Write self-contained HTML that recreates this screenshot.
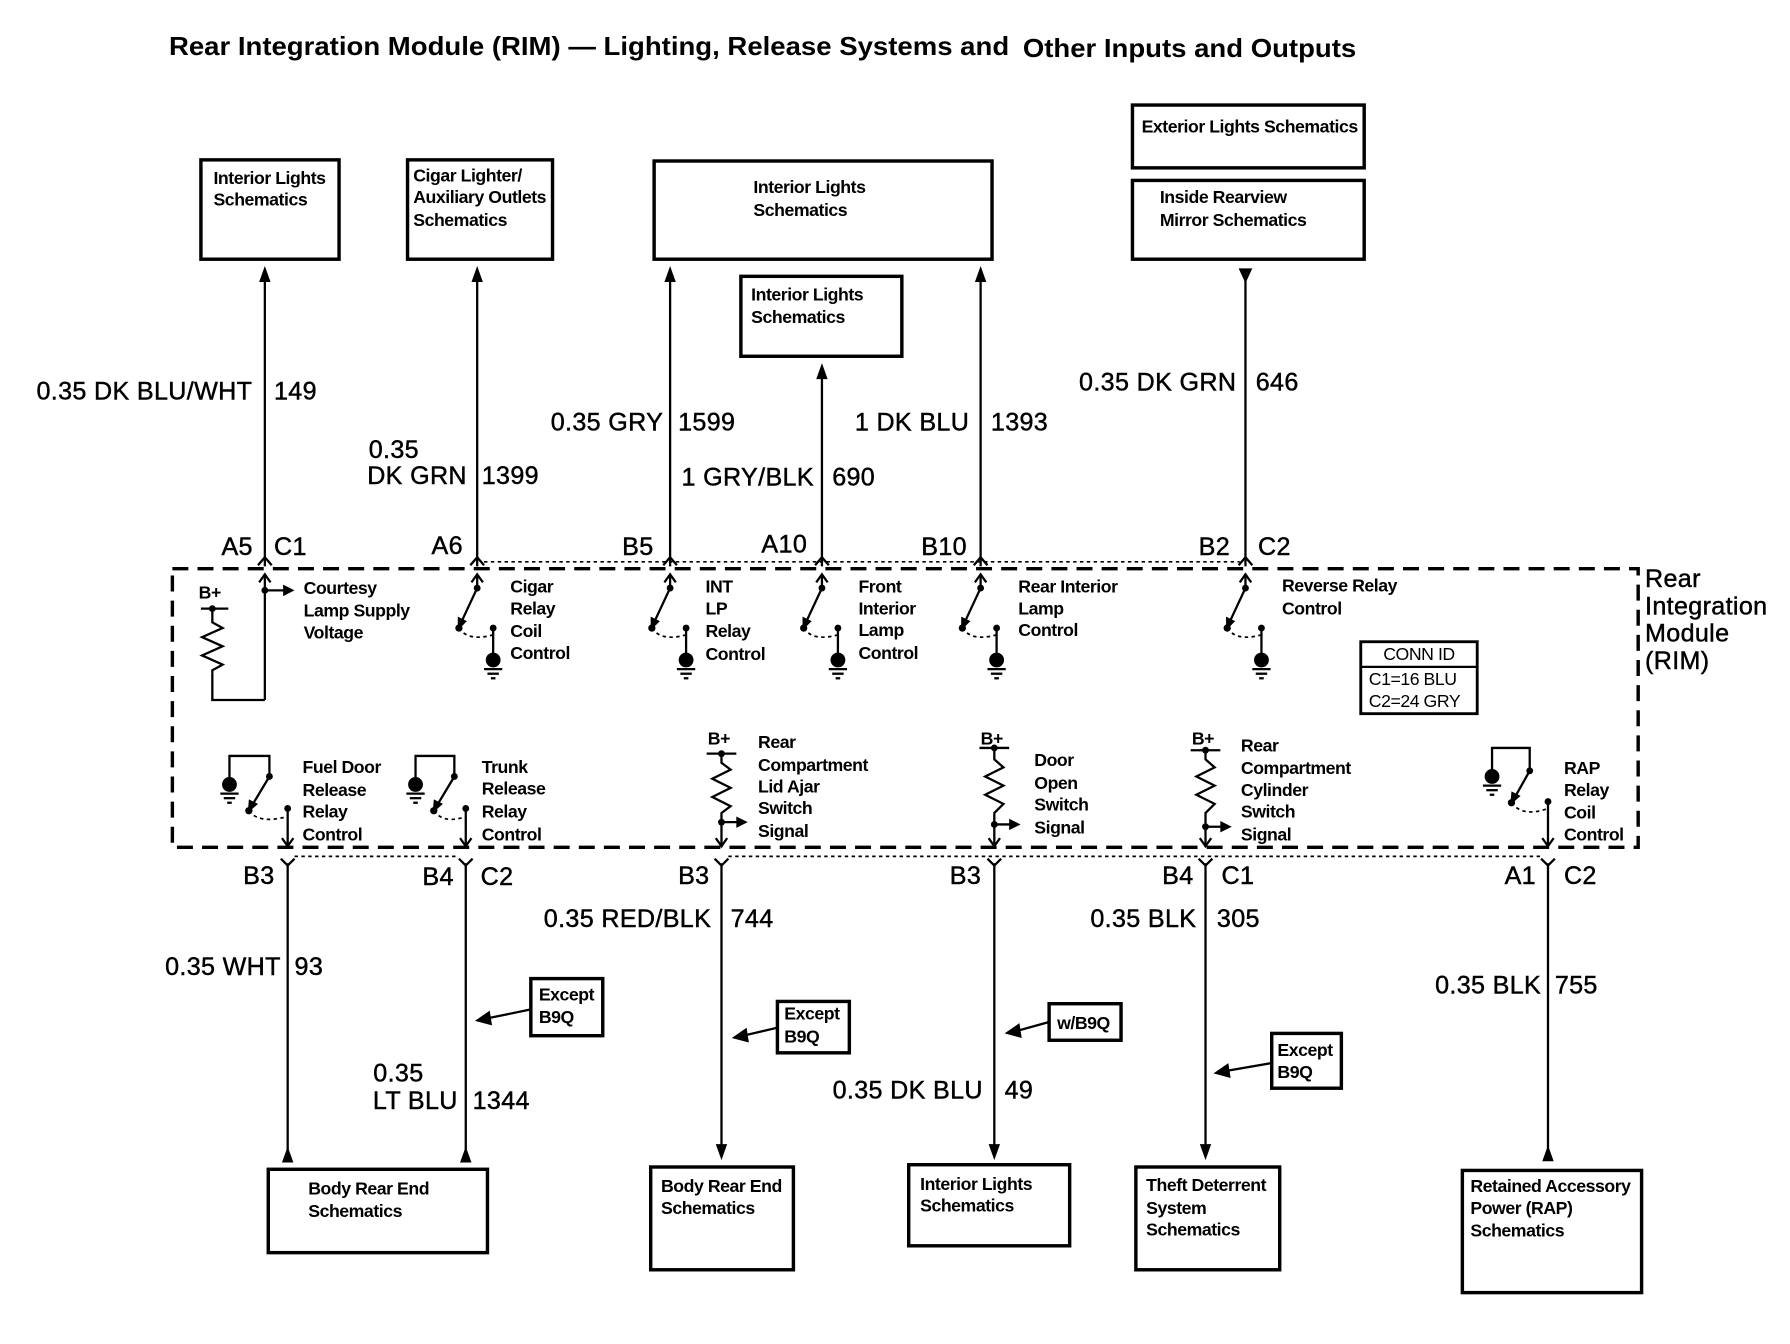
<!DOCTYPE html>
<html><head><meta charset="utf-8"><style>
html,body{margin:0;padding:0;background:#fff}
svg{display:block}
text{font-family:"Liberation Sans",sans-serif;fill:#000}
.s{font-size:15.5px;font-weight:bold;letter-spacing:-0.4px}
.w{font-size:22px;letter-spacing:0.3px;stroke:#000;stroke-width:0.4px}
.r{text-anchor:end}
.bx{fill:none;stroke:#000;stroke-width:3}
.ln{fill:none;stroke:#000;stroke-width:2}
.dl{fill:none;stroke:#000;stroke-width:1.5;stroke-dasharray:3 3}
</style></head><body>
<svg width="1790" height="1344" viewBox="0 0 1568 1177" preserveAspectRatio="none" xmlns="http://www.w3.org/2000/svg">
<text x="148" y="48" style="font-size:23px;font-weight:bold" textLength="736" lengthAdjust="spacingAndGlyphs">Rear Integration Module (RIM) — Lighting, Release Systems and</text>
<text x="896" y="50" style="font-size:23px;font-weight:bold" textLength="292" lengthAdjust="spacingAndGlyphs">Other Inputs and Outputs</text>

<rect class="bx" x="176" y="140" width="121" height="87"/>
<text class="s" x="187" y="161">Interior Lights</text><text class="s" x="187" y="180">Schematics</text>
<rect class="bx" x="357" y="140" width="127" height="87"/>
<text class="s" x="362" y="159">Cigar Lighter/</text><text class="s" x="362" y="178">Auxiliary Outlets</text><text class="s" x="362" y="198">Schematics</text>
<rect class="bx" x="573" y="141" width="296" height="86"/>
<text class="s" x="660" y="169">Interior Lights</text><text class="s" x="660" y="189">Schematics</text>
<rect class="bx" x="649" y="242" width="141" height="70"/>
<text class="s" x="658" y="263">Interior Lights</text><text class="s" x="658" y="283">Schematics</text>
<rect class="bx" x="992" y="92" width="203" height="55"/>
<text class="s" x="1000" y="116">Exterior Lights Schematics</text>
<rect class="bx" x="992" y="158" width="203" height="69"/>
<text class="s" x="1016" y="178">Inside Rearview</text><text class="s" x="1016" y="198">Mirror Schematics</text>

<g class="ln">
<line x1="232" y1="240" x2="232" y2="496"/>
<line x1="418" y1="240" x2="418" y2="496"/>
<line x1="587" y1="240" x2="587" y2="496"/>
<line x1="720" y1="330" x2="720" y2="496"/>
<line x1="859" y1="240" x2="859" y2="496"/>
<line x1="1091" y1="240" x2="1091" y2="496"/>
</g>
<g fill="#000">
<polygon points="232,233 227,247 237,247"/>
<polygon points="418,233 413,247 423,247"/>
<polygon points="587,233 582,247 592,247"/>
<polygon points="720,318 715,332 725,332"/>
<polygon points="859,233 854,247 864,247"/>
<polygon points="1085,235 1097,235 1091,248"/>
</g>
<text class="w r" x="221" y="350">0.35 DK BLU/WHT</text><text class="w" x="240" y="350">149</text>
<text class="w" x="323" y="401">0.35</text><text class="w r" x="409" y="424">DK GRN</text><text class="w" x="422" y="424">1399</text>
<text class="w r" x="581" y="377">0.35 GRY</text><text class="w" x="594" y="377">1599</text>
<text class="w r" x="713" y="425">1 GRY/BLK</text><text class="w" x="729" y="425">690</text>
<text class="w r" x="849" y="377">1 DK BLU</text><text class="w" x="868" y="377">1393</text>
<text class="w r" x="1083" y="342">0.35 DK GRN</text><text class="w" x="1100" y="342">646</text>

<text class="w" x="194" y="486">A5</text><text class="w" x="240" y="486">C1</text>
<text class="w" x="378" y="485">A6</text>
<text class="w" x="545" y="486">B5</text>
<text class="w" x="667" y="484">A10</text>
<text class="w" x="807" y="486">B10</text>
<text class="w" x="1050" y="486">B2</text><text class="w" x="1102" y="486">C2</text>
<line class="dl" x1="424" y1="492" x2="1086" y2="492"/>
<g class="ln">
<polyline points="226,495 232,488 238,495"/><polyline points="412,495 418,488 424,495"/>
<polyline points="581,495 587,488 593,495"/><polyline points="714,495 720,488 726,495"/>
<polyline points="853,495 859,488 865,495"/><polyline points="1085,495 1091,488 1097,495"/>
</g>

<rect x="151" y="498" width="1284" height="244" fill="none" stroke="#000" stroke-width="3" stroke-dasharray="14 8"/>
<text class="w" x="1441" y="514">Rear</text><text class="w" x="1441" y="538">Integration</text>
<text class="w" x="1441" y="562">Module</text><text class="w" x="1441" y="586">(RIM)</text>

<g class="ln">
<polyline points="227,510 232,503 237,510"/>
<line x1="232" y1="503" x2="232" y2="613"/>
<polyline points="232,613 186,613 186,590"/>
<line x1="176" y1="533" x2="200" y2="533"/>
<polyline points="186,533 186,545 195,550 177,558 195,566 177,574 195,582 186,587 186,590"/>
<line x1="232" y1="517" x2="250" y2="517"/>
</g>
<circle cx="186" cy="533" r="3"/><circle cx="232" cy="517" r="3"/>
<polygon points="258,517 248,512 248,522"/>
<text class="s" x="174" y="524">B+</text>
<text class="s" x="266" y="520">Courtesy</text><text class="s" x="266" y="540">Lamp Supply</text><text class="s" x="266" y="559">Voltage</text>

<g transform="translate(418,0)">
<g class="ln">
<polyline points="-5,510 0,503 5,510"/><line x1="0" y1="503" x2="0" y2="515"/>
<line x1="0" y1="515" x2="-14" y2="545"/>
<path d="M-16,550 Q-8,562 14,556" stroke-dasharray="3 3" stroke-width="1.5"/>
<line x1="14" y1="550" x2="14" y2="575"/>
<line x1="6" y1="586" x2="22" y2="586"/><line x1="9" y1="590" x2="19" y2="590"/><line x1="12" y1="594" x2="16" y2="594"/>
</g>
<circle cx="0" cy="515" r="3"/><circle cx="-16" cy="550" r="3.2"/><circle cx="14" cy="550" r="3"/><circle cx="14" cy="578" r="6.5"/>
<polygon points="-17,552 -17,540 -9,544"/>
</g>
<g transform="translate(587,0)">
<g class="ln">
<polyline points="-5,510 0,503 5,510"/><line x1="0" y1="503" x2="0" y2="515"/>
<line x1="0" y1="515" x2="-14" y2="545"/>
<path d="M-16,550 Q-8,562 14,556" stroke-dasharray="3 3" stroke-width="1.5"/>
<line x1="14" y1="550" x2="14" y2="575"/>
<line x1="6" y1="586" x2="22" y2="586"/><line x1="9" y1="590" x2="19" y2="590"/><line x1="12" y1="594" x2="16" y2="594"/>
</g>
<circle cx="0" cy="515" r="3"/><circle cx="-16" cy="550" r="3.2"/><circle cx="14" cy="550" r="3"/><circle cx="14" cy="578" r="6.5"/>
<polygon points="-17,552 -17,540 -9,544"/>
</g>
<g transform="translate(720,0)">
<g class="ln">
<polyline points="-5,510 0,503 5,510"/><line x1="0" y1="503" x2="0" y2="515"/>
<line x1="0" y1="515" x2="-14" y2="545"/>
<path d="M-16,550 Q-8,562 14,556" stroke-dasharray="3 3" stroke-width="1.5"/>
<line x1="14" y1="550" x2="14" y2="575"/>
<line x1="6" y1="586" x2="22" y2="586"/><line x1="9" y1="590" x2="19" y2="590"/><line x1="12" y1="594" x2="16" y2="594"/>
</g>
<circle cx="0" cy="515" r="3"/><circle cx="-16" cy="550" r="3.2"/><circle cx="14" cy="550" r="3"/><circle cx="14" cy="578" r="6.5"/>
<polygon points="-17,552 -17,540 -9,544"/>
</g>
<g transform="translate(859,0)">
<g class="ln">
<polyline points="-5,510 0,503 5,510"/><line x1="0" y1="503" x2="0" y2="515"/>
<line x1="0" y1="515" x2="-14" y2="545"/>
<path d="M-16,550 Q-8,562 14,556" stroke-dasharray="3 3" stroke-width="1.5"/>
<line x1="14" y1="550" x2="14" y2="575"/>
<line x1="6" y1="586" x2="22" y2="586"/><line x1="9" y1="590" x2="19" y2="590"/><line x1="12" y1="594" x2="16" y2="594"/>
</g>
<circle cx="0" cy="515" r="3"/><circle cx="-16" cy="550" r="3.2"/><circle cx="14" cy="550" r="3"/><circle cx="14" cy="578" r="6.5"/>
<polygon points="-17,552 -17,540 -9,544"/>
</g>
<g transform="translate(1091,0)">
<g class="ln">
<polyline points="-5,510 0,503 5,510"/><line x1="0" y1="503" x2="0" y2="515"/>
<line x1="0" y1="515" x2="-14" y2="545"/>
<path d="M-16,550 Q-8,562 14,556" stroke-dasharray="3 3" stroke-width="1.5"/>
<line x1="14" y1="550" x2="14" y2="575"/>
<line x1="6" y1="586" x2="22" y2="586"/><line x1="9" y1="590" x2="19" y2="590"/><line x1="12" y1="594" x2="16" y2="594"/>
</g>
<circle cx="0" cy="515" r="3"/><circle cx="-16" cy="550" r="3.2"/><circle cx="14" cy="550" r="3"/><circle cx="14" cy="578" r="6.5"/>
<polygon points="-17,552 -17,540 -9,544"/>
</g>
<text class="s" x="447" y="519">Cigar</text><text class="s" x="447" y="538">Relay</text><text class="s" x="447" y="558">Coil</text><text class="s" x="447" y="577">Control</text>
<text class="s" x="618" y="519">INT</text><text class="s" x="618" y="538">LP</text><text class="s" x="618" y="558">Relay</text><text class="s" x="618" y="578">Control</text>
<text class="s" x="752" y="519">Front</text><text class="s" x="752" y="538">Interior</text><text class="s" x="752" y="557">Lamp</text><text class="s" x="752" y="577">Control</text>
<text class="s" x="892" y="519">Rear Interior</text><text class="s" x="892" y="538">Lamp</text><text class="s" x="892" y="557">Control</text>
<text class="s" x="1123" y="518">Reverse Relay</text><text class="s" x="1123" y="538">Control</text>

<rect x="1192" y="562" width="102" height="63" fill="none" stroke="#000" stroke-width="2.5"/>
<line x1="1192" y1="584" x2="1294" y2="584" stroke="#000" stroke-width="2"/>
<text class="s" x="1243" y="578" text-anchor="middle" style="font-weight:normal">CONN ID</text>
<text class="s" x="1199" y="600" style="font-weight:normal">C1=16 BLU</text>
<text class="s" x="1199" y="619" style="font-weight:normal">C2=24 GRY</text>

<g transform="translate(252,0)">
<g class="ln">
<polyline points="-51,684 -51,662 -16,662 -16,680"/>
<line x1="-16" y1="680" x2="-31" y2="705"/>
<path d="M-34,710 Q-25,722 0,715" stroke-dasharray="3 3" stroke-width="1.5"/>
<line x1="0" y1="708" x2="0" y2="742"/><polyline points="-5,734 0,741 5,734"/>
<line x1="-59" y1="695" x2="-43" y2="695"/><line x1="-56" y1="699" x2="-46" y2="699"/><line x1="-53" y1="703" x2="-49" y2="703"/>
</g>
<circle cx="-51" cy="687" r="6.5"/><circle cx="-16" cy="680" r="3"/><circle cx="-34" cy="710" r="3.2"/><circle cx="0" cy="708" r="3"/>
<polygon points="-35,712 -34,700 -26,704"/>
</g>
<g transform="translate(408,0)">
<g class="ln">
<polyline points="-44,684 -44,662 -10,662 -10,680"/>
<line x1="-10" y1="680" x2="-25" y2="705"/>
<path d="M-28,710 Q-19,722 0,715" stroke-dasharray="3 3" stroke-width="1.5"/>
<line x1="0" y1="708" x2="0" y2="742"/><polyline points="-5,734 0,741 5,734"/>
<line x1="-52" y1="695" x2="-36" y2="695"/><line x1="-49" y1="699" x2="-39" y2="699"/><line x1="-46" y1="703" x2="-42" y2="703"/>
</g>
<circle cx="-44" cy="687" r="6.5"/><circle cx="-10" cy="680" r="3"/><circle cx="-28" cy="710" r="3.2"/><circle cx="0" cy="708" r="3"/>
<polygon points="-29,712 -28,700 -20,704"/>
</g>
<g transform="translate(1356,0)">
<g class="ln">
<polyline points="-49,678 -49,655 -16,655 -16,675"/>
<line x1="-16" y1="675" x2="-30" y2="700"/>
<path d="M-32,703 Q-22,716 0,708" stroke-dasharray="3 3" stroke-width="1.5"/>
<line x1="0" y1="702" x2="0" y2="742"/><polyline points="-5,734 0,741 5,734"/>
<line x1="-57" y1="688" x2="-41" y2="688"/><line x1="-54" y1="692" x2="-44" y2="692"/><line x1="-51" y1="696" x2="-47" y2="696"/>
</g>
<circle cx="-49" cy="680" r="6.5"/><circle cx="-16" cy="675" r="3"/><circle cx="-32" cy="703" r="3.2"/><circle cx="0" cy="702" r="3"/>
<polygon points="-33,705 -32,693 -24,697"/>
</g>
<text class="s" x="265" y="677">Fuel Door</text><text class="s" x="265" y="697">Release</text><text class="s" x="265" y="716">Relay</text><text class="s" x="265" y="736">Control</text>
<text class="s" x="422" y="677">Trunk</text><text class="s" x="422" y="696">Release</text><text class="s" x="422" y="716">Relay</text><text class="s" x="422" y="736">Control</text>
<text class="s" x="1370" y="678">RAP</text><text class="s" x="1370" y="697">Relay</text><text class="s" x="1370" y="717">Coil</text><text class="s" x="1370" y="736">Control</text>

<g transform="translate(632,0)">
<g class="ln">
<line x1="-13" y1="660" x2="13" y2="660"/>
<polyline points="0,660 0,668 8,674 -8,682 8,690 -8,698 8,706 0,712 0,742"/>
<polyline points="-5,734 0,741 5,734"/><line x1="0" y1="720" x2="14" y2="720"/>
</g>
<circle cx="0" cy="660" r="3"/><circle cx="0" cy="720" r="3"/><polygon points="23,720 13,715 13,725"/>
<text class="s" x="-12" y="652">B+</text>
</g>
<g transform="translate(871,0)">
<g class="ln">
<line x1="-13" y1="655" x2="13" y2="655"/>
<polyline points="0,655 0,665 8,672 -8,680 8,688 -8,696 8,704 0,712 0,742"/>
<polyline points="-5,734 0,741 5,734"/><line x1="0" y1="722" x2="14" y2="722"/>
</g>
<circle cx="0" cy="655" r="3"/><circle cx="0" cy="722" r="3"/><polygon points="23,722 13,717 13,727"/>
<text class="s" x="-12" y="652">B+</text>
</g>
<g transform="translate(1056,0)">
<g class="ln">
<line x1="-13" y1="657" x2="13" y2="657"/>
<polyline points="0,657 0,665 8,672 -8,680 8,688 -8,696 8,704 0,712 0,742"/>
<polyline points="-5,734 0,741 5,734"/><line x1="0" y1="724" x2="14" y2="724"/>
</g>
<circle cx="0" cy="657" r="3"/><circle cx="0" cy="724" r="3"/><polygon points="23,724 13,719 13,729"/>
<text class="s" x="-12" y="652">B+</text>
</g>
<text class="s" x="664" y="655">Rear</text><text class="s" x="664" y="675">Compartment</text><text class="s" x="664" y="694">Lid Ajar</text><text class="s" x="664" y="713">Switch</text><text class="s" x="664" y="733">Signal</text>
<text class="s" x="906" y="671">Door</text><text class="s" x="906" y="691">Open</text><text class="s" x="906" y="710">Switch</text><text class="s" x="906" y="730">Signal</text>
<text class="s" x="1087" y="658">Rear</text><text class="s" x="1087" y="678">Compartment</text><text class="s" x="1087" y="697">Cylinder</text><text class="s" x="1087" y="716">Switch</text><text class="s" x="1087" y="736">Signal</text>

<line class="dl" x1="258" y1="750" x2="402" y2="750"/>
<line class="dl" x1="638" y1="750" x2="1350" y2="750"/>
<g class="ln">
<polyline points="246,752 252,758 258,752"/><polyline points="402,752 408,758 414,752"/>
<polyline points="626,752 632,758 638,752"/><polyline points="865,752 871,758 877,752"/>
<polyline points="1050,752 1056,758 1062,752"/><polyline points="1350,752 1356,758 1362,752"/>
<line x1="252" y1="756" x2="252" y2="1010"/>
<line x1="408" y1="756" x2="408" y2="1010"/>
<line x1="632" y1="756" x2="632" y2="1004"/>
<line x1="871" y1="756" x2="871" y2="1004"/>
<line x1="1056" y1="756" x2="1056" y2="1004"/>
<line x1="1356" y1="756" x2="1356" y2="1006"/>
</g>
<g fill="#000">
<polygon points="252,1004 247,1018 257,1018"/>
<polygon points="408,1004 403,1018 413,1018"/>
<polygon points="627,1002 637,1002 632,1016"/>
<polygon points="866,1002 876,1002 871,1016"/>
<polygon points="1051,1002 1061,1002 1056,1016"/>
<polygon points="1356,1003 1351,1017 1361,1017"/>
</g>
<text class="w" x="213" y="774">B3</text>
<text class="w" x="370" y="775">B4</text><text class="w" x="421" y="775">C2</text>
<text class="w" x="594" y="774">B3</text>
<text class="w" x="832" y="774">B3</text>
<text class="w" x="1018" y="774">B4</text><text class="w" x="1070" y="774">C1</text>
<text class="w" x="1318" y="774">A1</text><text class="w" x="1370" y="774">C2</text>

<text class="w r" x="246" y="854">0.35 WHT</text><text class="w" x="258" y="854">93</text>
<text class="w" x="327" y="947">0.35</text><text class="w r" x="401" y="971">LT BLU</text><text class="w" x="414" y="971">1344</text>
<text class="w r" x="623" y="812">0.35 RED/BLK</text><text class="w" x="640" y="812">744</text>
<text class="w r" x="861" y="962">0.35 DK BLU</text><text class="w" x="880" y="962">49</text>
<text class="w r" x="1048" y="812">0.35 BLK</text><text class="w" x="1066" y="812">305</text>
<text class="w r" x="1350" y="870">0.35 BLK</text><text class="w" x="1362" y="870">755</text>

<rect class="bx" x="465" y="857" width="63" height="50"/>
<text class="s" x="472" y="876">Except</text><text class="s" x="472" y="896">B9Q</text>
<line class="ln" x1="465" y1="884" x2="426" y2="892"/><polygon points="416,894 429,885 431,898"/>
<rect class="bx" x="681" y="877" width="63" height="45"/>
<text class="s" x="687" y="893">Except</text><text class="s" x="687" y="913">B9Q</text>
<line class="ln" x1="681" y1="900" x2="651" y2="907"/><polygon points="641,909 654,900 656,913"/>
<rect class="bx" x="919" y="879" width="63" height="32"/>
<text class="s" x="926" y="901">w/B9Q</text>
<line class="ln" x1="919" y1="895" x2="890" y2="903"/><polygon points="880,905 893,896 895,909"/>
<rect class="bx" x="1114" y="905" width="61" height="48"/>
<text class="s" x="1119" y="925">Except</text><text class="s" x="1119" y="944">B9Q</text>
<line class="ln" x1="1114" y1="931" x2="1073" y2="938"/><polygon points="1063,940 1076,931 1078,944"/>

<rect class="bx" x="235" y="1024" width="192" height="73"/>
<text class="s" x="270" y="1046">Body Rear End</text><text class="s" x="270" y="1066">Schematics</text>
<rect class="bx" x="570" y="1022" width="125" height="90"/>
<text class="s" x="579" y="1044">Body Rear End</text><text class="s" x="579" y="1063">Schematics</text>
<rect class="bx" x="796" y="1020" width="141" height="71"/>
<text class="s" x="806" y="1042">Interior Lights</text><text class="s" x="806" y="1061">Schematics</text>
<rect class="bx" x="995" y="1022" width="126" height="90"/>
<text class="s" x="1004" y="1043">Theft Deterrent</text><text class="s" x="1004" y="1063">System</text><text class="s" x="1004" y="1082">Schematics</text>
<rect class="bx" x="1281" y="1025" width="157" height="107"/>
<text class="s" x="1288" y="1044">Retained Accessory</text><text class="s" x="1288" y="1063">Power (RAP)</text><text class="s" x="1288" y="1083">Schematics</text>
</svg>
</body></html>
